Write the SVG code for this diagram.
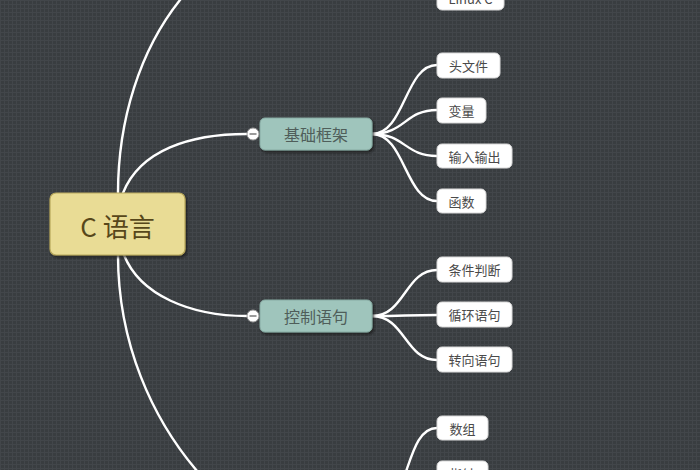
<svg xmlns="http://www.w3.org/2000/svg" width="700" height="470" viewBox="0 0 700 470">
<defs>
<pattern id="grid" width="4" height="4" patternUnits="userSpaceOnUse">
<rect width="4" height="4" fill="#393d40"/>
<path d="M0,0.5H4M0.5,0V4" stroke="#42464a" stroke-width="1"/>
</pattern>
<filter id="sh" x="-10%" y="-10%" width="130%" height="140%">
<feDropShadow dx="1.5" dy="2" stdDeviation="1.2" flood-color="#1a1c1e" flood-opacity="0.8"/>
</filter>
</defs>
<style>
.conn{fill:none;stroke:#ffffff;stroke-width:2.4;stroke-linecap:round}
.leaf rect{fill:#ffffff;stroke:#d8d8d8;stroke-width:1}
.leaf text{font-family:"Noto Sans CJK SC","Noto Sans",sans-serif;font-size:13px;fill:#4a4a4a;text-anchor:middle;dominant-baseline:central}
.branch rect{fill:#9fc5bc;stroke:#87aba3;stroke-width:1}
.branch text{font-family:"Noto Sans CJK SC","Noto Sans",sans-serif;font-size:16px;fill:#4f5e5a;text-anchor:middle;dominant-baseline:central}
.toggle circle{fill:#ffffff;stroke:#9a9a9a;stroke-width:1}
.toggle line{stroke:#7a7a7a;stroke-width:1.5}
</style>
<rect width="700" height="470" fill="url(#grid)"/>

<g id="connectors">
<path class="conn" d="M118,193 C118,120 140,50 180,0 L195,-20"/>
<path class="conn" d="M123,193 C140,150 190,134 247,134"/>
<path class="conn" d="M124,255 C140,295 190,316 247,316"/>
<path class="conn" d="M118,255 C118,340 150,420 205,480"/>
<path class="conn" d="M372,134 C405,134 405,65 437,65"/>
<path class="conn" d="M372,134 C405,134 405,110 437,110"/>
<path class="conn" d="M372,134 C405,134 405,156 437,156"/>
<path class="conn" d="M372,134 C405,134 405,201 437,201"/>
<path class="conn" d="M372,316 C405,316 405,270 437,270"/>
<path class="conn" d="M372,316 C405,316 405,315 437,315"/>
<path class="conn" d="M372,316 C405,316 405,360 437,360"/>
<path class="conn" d="M380,505 C410,505 405,428 437,428"/>
</g>

<g id="root">
<rect x="50" y="193" width="135" height="62" rx="6" fill="#e9dc95" stroke="#b8a85c" stroke-width="1.2" filter="url(#sh)"/>
<text x="117.5" y="225" font-family="'Noto Sans CJK SC','Noto Sans',sans-serif" font-size="26" fill="#57471a" text-anchor="middle" dominant-baseline="central">C 语言</text>
</g>

<g id="branch-basic" class="branch">
<rect x="260" y="118" width="112" height="32" rx="5" filter="url(#sh)"/>
<text x="316" y="134">基础框架</text>
</g>
<g id="toggle-basic" class="toggle">
<circle cx="253" cy="134" r="6"/>
<line x1="249.5" y1="134" x2="256.5" y2="134"/>
</g>

<g id="branch-control" class="branch">
<rect x="260" y="300" width="112" height="32" rx="5" filter="url(#sh)"/>
<text x="316" y="316">控制语句</text>
</g>
<g id="toggle-control" class="toggle">
<circle cx="253" cy="316" r="6"/>
<line x1="249.5" y1="316" x2="256.5" y2="316"/>
</g>

<g id="leaf-linux" class="leaf">
<rect x="437" y="-14" width="67" height="24" rx="5"/>
<text x="470.5" y="-2">Linux C</text>
</g>
<g id="leaf-header" class="leaf">
<rect x="437" y="53" width="63" height="25" rx="5"/>
<text x="468.5" y="65.5">头文件</text>
</g>
<g id="leaf-var" class="leaf">
<rect x="437" y="98" width="49" height="25" rx="5"/>
<text x="461.5" y="110.5">变量</text>
</g>
<g id="leaf-io" class="leaf">
<rect x="437" y="144" width="75" height="24" rx="5"/>
<text x="474.5" y="156">输入输出</text>
</g>
<g id="leaf-func" class="leaf">
<rect x="437" y="189" width="49" height="24" rx="5"/>
<text x="461.5" y="201">函数</text>
</g>
<g id="leaf-cond" class="leaf">
<rect x="437" y="257" width="75" height="25" rx="5"/>
<text x="474.5" y="269.5">条件判断</text>
</g>
<g id="leaf-loop" class="leaf">
<rect x="437" y="302" width="75" height="25" rx="5"/>
<text x="474.5" y="314.5">循环语句</text>
</g>
<g id="leaf-jump" class="leaf">
<rect x="437" y="347" width="75" height="25" rx="5"/>
<text x="474.5" y="359.5">转向语句</text>
</g>
<g id="leaf-array" class="leaf">
<rect x="437" y="416" width="51" height="24" rx="5"/>
<text x="462.5" y="428">数组</text>
</g>
<g id="leaf-pointer" class="leaf">
<rect x="437" y="461" width="51" height="24" rx="5"/>
<text x="462.5" y="473">指针</text>
</g>
</svg>
